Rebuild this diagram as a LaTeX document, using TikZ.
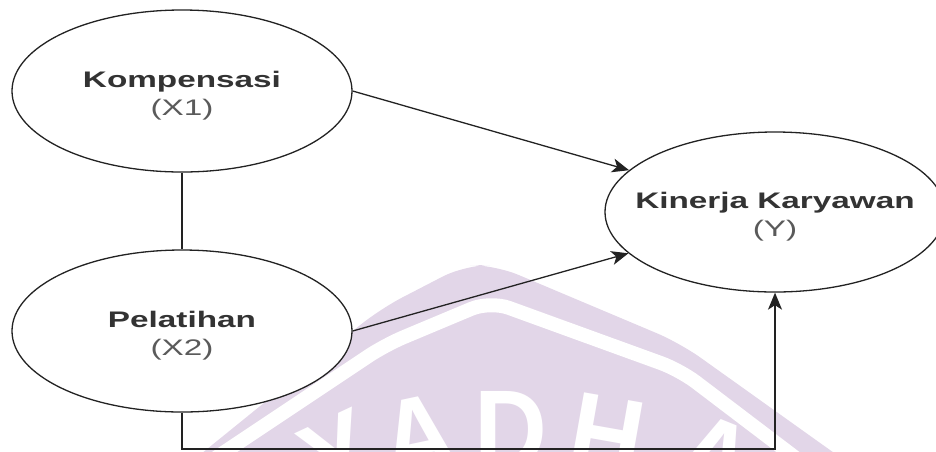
\documentclass[tikz,border=0pt]{standalone}
\usepackage{fontspec}
\setmainfont{Liberation Sans}
\usetikzlibrary{shapes.geometric,arrows.meta}
\definecolor{wm}{RGB}{226,214,232}
\definecolor{ink}{RGB}{34,34,34}
\definecolor{toneA}{RGB}{51,51,51}
\definecolor{toneB}{RGB}{90,90,90}
\newcommand{\vartitle}[2]{\scalebox{1.48}[1]{\begin{tabular}{@{}c@{}}\textbf{\color{toneA}#1}\\{\color{toneB}#2}\end{tabular}}}
\begin{document}
\begin{tikzpicture}[x=1pt,y=-1pt,
  font=\fontsize{22.5}{28}\selectfont,
  var/.style={ellipse, draw=ink, line width=1.3pt, fill=white, minimum width=340pt, minimum height=162pt, inner sep=0pt},
  link/.style={draw=ink, line width=1.3pt},
  tip/.style={-{Stealth[length=17pt,width=14pt,inset=4.5pt]}},
  wmletter/.style={text=white, font=\fontsize{112}{112}\selectfont\bfseries, anchor=base, inner sep=0pt}]
\useasboundingbox (0,0) rectangle (936,451);
% watermark
\begin{scope}
  \clip (0,0) rectangle (936,451);
  \fill[wm, rounded corners=25pt] (175,475) -- (380,309) -- (465,265) -- (495,265) -- (680,343) -- (865,475) -- cycle;
  \draw[white, line width=14pt, rounded corners=20pt] (205,465) -- (385,345) -- (490,301) -- (680,370) -- (805,465);
  \node[wmletter, rotate=25] (wy) at (356,490) {\scalebox{0.9}[1]{Y}};
  \node[wmletter, rotate=12] (wa) at (426,474) {\scalebox{0.9}[1]{A}};
  \node[wmletter, rotate=0] (wd) at (511,468) {\scalebox{0.9}[1]{D}};
  \node[wmletter, rotate=-10] (wh) at (600,474) {\scalebox{0.9}[1]{H}};
  \node[wmletter, rotate=-22] (wa2) at (700,494) {\scalebox{0.9}[1]{A}};
\end{scope}
% variables
\node[var] (k1) at (182,91) {};
\node[var] (p2) at (182,331) {};
\node[var, minimum height=160pt] (ky) at (775,212) {};
\node (k1t) at (182,95.4) {\vartitle{Kompensasi}{(X1)}};
\node (p2t) at (182,335.4) {\vartitle{Pelatihan}{(X2)}};
\node (kyt) at (775,216.4) {\vartitle{Kinerja Karyawan}{(Y)}};
% connectors
\draw[link] (k1.south) -- (p2.north);
\draw[link,tip] (k1.east) -- (ky);
\draw[link,tip] (p2.east) -- (ky);
\coordinate (bend) at (775,449);
\draw[link,tip] (p2.south) |- (bend) -- (ky.south);
\end{tikzpicture}
\end{document}
